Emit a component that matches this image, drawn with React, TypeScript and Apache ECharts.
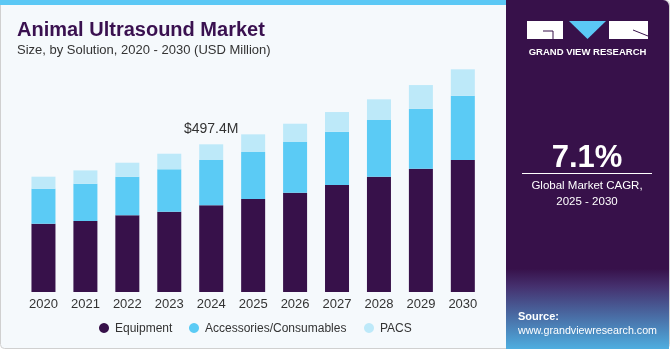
import React, { useEffect, useRef } from "react";
import * as echarts from "echarts";

const years = ["2020", "2021", "2022", "2023", "2024", "2025", "2026", "2027", "2028", "2029", "2030"];
const equipment = [230, 239, 258.3, 270.5, 292, 313.2, 334.4, 360.4, 388.3, 415.3, 444.6];
const accessories = [118, 125.6, 130, 142.8, 152.6, 158.3, 170.8, 179.5, 191, 202, 216.6];
const pacs = [40.4, 45, 47.2, 52.5, 52.9, 59.6, 61.6, 66.3, 69.7, 79.8, 88.9];
const seriesNames = ["Equipment", "Accessories/Consumables", "PACS"];
const labelYear = "2024";
const labelText = "$497.4M";

const FONT = "'Liberation Sans', Arial, sans-serif";

export default function App() {
  const ref = useRef<HTMLDivElement>(null);
  useEffect(() => {
    if (!ref.current) return;
    const chart = echarts.init(ref.current, undefined, { renderer: "svg" });
    const dark = "#37114a";
    const legendLefts = [99, 189, 364];
    chart.setOption({
      animation: false,
      textStyle: { fontFamily: FONT },
      graphic: [
        { type: "rect", z: -10, shape: { x: 0.5, y: 0.5, width: 669, height: 348, r: 4 }, style: { fill: "#f5f9fc", stroke: "#d0d0d0", lineWidth: 1 } },
        { type: "rect", z: -9, shape: { x: 0, y: 0, width: 506, height: 5 }, style: { fill: "#5bc8f5" } },
        {
          type: "rect", z: -8, shape: { x: 506, y: 0, width: 163, height: 349, r: [0, 6, 0, 0] },
          style: {
            fill: new echarts.graphic.LinearGradient(0, 0, 0, 1, [
              { offset: 0, color: "#37114a" },
              { offset: 0.77, color: "#37114a" },
              { offset: 0.82, color: "#45306e" },
              { offset: 1, color: "#4eaee0" },
            ]),
          },
        },
        { type: "rect", shape: { x: 527, y: 21, width: 36, height: 18 }, style: { fill: "#ffffff" } },
        { type: "polyline", shape: { points: [[543, 31], [553, 31], [553, 39]] }, style: { stroke: dark, lineWidth: 1, fill: "none" } },
        { type: "polygon", shape: { points: [[569, 21], [606, 21], [587.5, 39]] }, style: { fill: "#5bc8f5" } },
        { type: "rect", shape: { x: 609, y: 21, width: 39, height: 18 }, style: { fill: "#ffffff" } },
        { type: "line", shape: { x1: 633, y1: 30, x2: 648, y2: 36 }, style: { stroke: dark, lineWidth: 1 } },
        { type: "text", x: 587.5, y: 51, style: { text: "GRAND VIEW RESEARCH", fill: "#ffffff", font: `bold 9.5px ${FONT}`, align: "center", verticalAlign: "middle" } },
        { type: "text", x: 587, y: 156, style: { text: "7.1%", fill: "#ffffff", font: `bold 31px ${FONT}`, align: "center", verticalAlign: "middle" } },
        { type: "line", shape: { x1: 522, y1: 173.5, x2: 652, y2: 173.5 }, style: { stroke: "#ffffff", lineWidth: 1 } },
        { type: "text", x: 587, y: 185, style: { text: "Global Market CAGR,", fill: "#ffffff", font: `11.5px ${FONT}`, align: "center", verticalAlign: "middle" } },
        { type: "text", x: 587, y: 201, style: { text: "2025 - 2030", fill: "#ffffff", font: `11.5px ${FONT}`, align: "center", verticalAlign: "middle" } },
        { type: "text", x: 518, y: 316, style: { text: "Source:", fill: "#ffffff", font: `bold 11px ${FONT}`, align: "left", verticalAlign: "middle" } },
        { type: "text", x: 518, y: 330, style: { text: "www.grandviewresearch.com", fill: "#ffffff", font: `10.7px ${FONT}`, align: "left", verticalAlign: "middle" } },
        { type: "text", x: 17, y: 29, style: { text: "Animal Ultrasound Market", fill: "#3a1150", font: `bold 20px ${FONT}`, align: "left", verticalAlign: "middle" } },
        { type: "text", x: 17, y: 49, style: { text: "Size, by Solution, 2020 - 2030 (USD Million)", fill: "#333333", font: `13px ${FONT}`, align: "left", verticalAlign: "middle" } },
      ],
      grid: { left: 22.5, right: 186.2, top: 54.5, bottom: 58 },
      legend: seriesNames.map((n, i) => ({
        left: legendLefts[i],
        top: 322,
        icon: "circle",
        itemWidth: 10,
        itemHeight: 10,
        padding: 0,
        textStyle: { color: "#333333", fontSize: 12, fontFamily: FONT, padding: [0, 0, 0, 1] },
        data: [n],
      })),
      xAxis: {
        type: "category",
        data: years,
        axisLine: { show: false },
        axisTick: { show: false },
        axisLabel: { color: "#333333", fontSize: 13, margin: 5, fontFamily: FONT },
      },
      yAxis: { type: "value", min: 0, max: 800, show: false, splitLine: { show: false } },
      series: [
        { name: seriesNames[0], type: "bar", stack: "t", barWidth: 24, data: equipment, itemStyle: { color: "#37114a" } },
        { name: seriesNames[1], type: "bar", stack: "t", barWidth: 24, data: accessories, itemStyle: { color: "#5bcbf5" } },
        {
          name: seriesNames[2], type: "bar", stack: "t", barWidth: 24,
          data: pacs.map((v, i) =>
            years[i] === labelYear
              ? { value: v, label: { show: true, position: "top", distance: 9, formatter: labelText, color: "#333333", fontSize: 14, fontFamily: FONT } }
              : v
          ),
          itemStyle: { color: "#bde9f9" },
        },
      ],
    });
    return () => chart.dispose();
  }, []);
  return <div ref={ref} style={{ position: "fixed", left: 0, top: 0, width: 670, height: 350 }} />;
}
